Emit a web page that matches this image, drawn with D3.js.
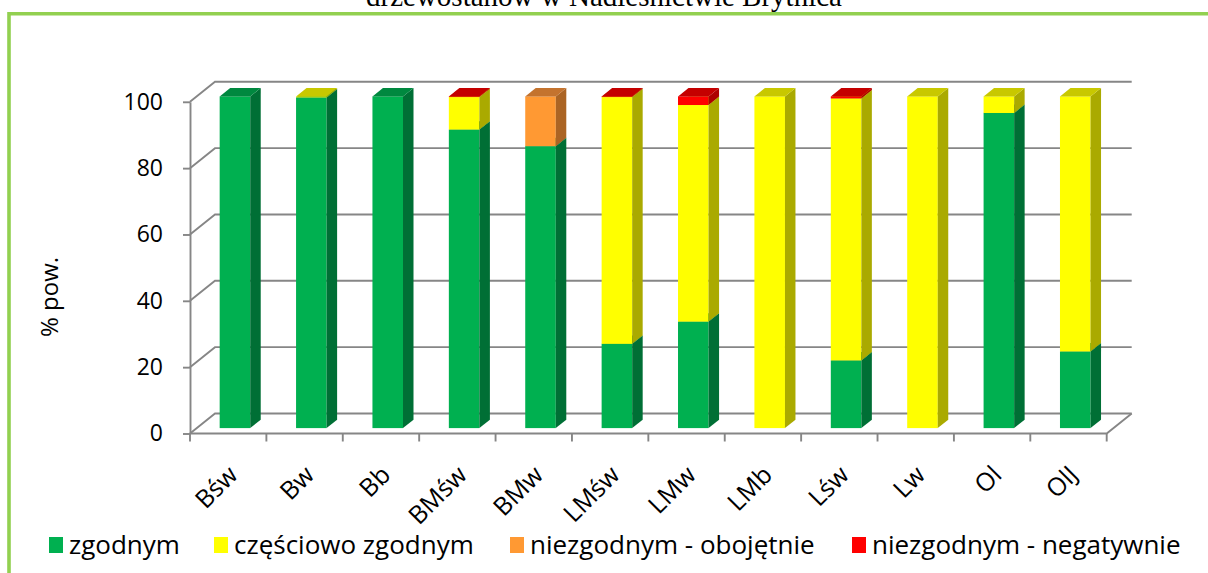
<!DOCTYPE html>
<html>
<head>
<meta charset="utf-8">
<script src="https://cdn.jsdelivr.net/npm/d3@7"></script>
<style>
  html, body { margin: 0; padding: 0; background: #fff; }
  svg { display: block; }
</style>
</head>
<body>
<div id="chart"></div>
<script>
// categories (typy siedliskowe lasu)
const categories = ["Bśw", "Bw", "Bb", "BMśw", "BMw", "LMśw", "LMw", "LMb", "Lśw", "Lw", "Ol", "OlJ"];

// series values, % pow.
const zgodnym    = [100, 99.7, 100, 90, 85, 25.4, 32.1, 0, 20.4, 0, 95, 23.1];
const czesciowo  = [0, 0.3, 0, 9.8, 0, 74.4, 65.3, 100, 79.0, 100, 5, 76.9];
const obojetnie  = [0, 0, 0, 0, 15, 0, 0, 0, 0, 0, 0, 0];
const negatywnie = [0, 0, 0, 0.2, 0, 0.2, 2.6, 0, 0.6, 0, 0, 0];

const seriesNames = ["zgodnym", "częściowo zgodnym", "niezgodnym - obojętnie", "niezgodnym - negatywnie"];
const yTicks = [0, 20, 40, 60, 80, 100];

const titleText = "drzewostanów w Nadleśnictwie Brytnica";
const yTitle = "% pow.";

// build rows for d3.stack
const rows = categories.map((c, i) => ({
  cat: c,
  "zgodnym": zgodnym[i],
  "częściowo zgodnym": czesciowo[i],
  "niezgodnym - obojętnie": obojetnie[i],
  "niezgodnym - negatywnie": negatywnie[i]
}));

const width = 1208, height = 573;
const font = "'Open Sans', 'Noto Sans', sans-serif";

// 3D look: front face, side face, top face per series
const colors = {
  "zgodnym":                 { front: "#00b050", side: "#006f35", top: "#00883f" },
  "częściowo zgodnym":       { front: "#ffff00", side: "#aaaa00", top: "#c8c800" },
  "niezgodnym - obojętnie":  { front: "#ff9933", side: "#ab6424", top: "#c4732e" },
  "niezgodnym - negatywnie": { front: "#ff0000", side: "#ad0000", top: "#c40000" }
};

const depth = { dx: 25, dy: -20 };       // depth of the plot box
const barFront = 0.27, barDepth = 0.42;  // bar position inside the depth

const x = d3.scaleBand()
  .domain(categories)
  .range([190, 1106.7]);

const y = d3.scaleLinear()
  .domain([0, 100])
  .range([433.5, 101.8]);

const svg = d3.select("#chart").append("svg")
  .attr("width", width)
  .attr("height", height)
  .attr("viewBox", [0, 0, width, height]);

// title (cut at the top of the picture, as in the source)
svg.append("text")
  .attr("x", 604)
  .attr("y", 6)
  .attr("text-anchor", "middle")
  .attr("font-family", "'Liberation Serif', serif")
  .attr("font-size", 29)
  .attr("fill", "#000")
  .text(titleText);

// green frame
svg.append("path")
  .attr("d", "M9,573 V13.8 H1212")
  .attr("fill", "none")
  .attr("stroke", "#92d050")
  .attr("stroke-width", 3.6);

const grid = svg.append("g")
  .attr("stroke", "#868686")
  .attr("stroke-width", 1.9)
  .attr("fill", "none");

const x0 = x.range()[0], x1 = x.range()[1];

// back wall gridlines and left wall diagonals
grid.selectAll(".back")
  .data(yTicks)
  .join("path")
  .attr("class", "back")
  .attr("d", d => `M${x0},${y(d)} L${x0 + depth.dx},${y(d) + depth.dy} H${x1 + depth.dx}`);

// floor: front edge and right diagonal
grid.append("path")
  .attr("d", `M${x0},${y(0)} H${x1} L${x1 + depth.dx},${y(0) + depth.dy}`);

// y axis
const yAxis = svg.append("g")
  .attr("transform", `translate(${x0},0)`)
  .call(d3.axisLeft(y).tickValues(yTicks).tickSize(7).tickSizeOuter(0).tickPadding(20));
yAxis.select(".domain").attr("stroke", "#868686").attr("stroke-width", 1.9);
yAxis.selectAll(".tick line").attr("stroke", "#868686").attr("stroke-width", 1.9);
yAxis.selectAll(".tick text")
  .attr("font-family", font)
  .attr("font-size", 23)
  .attr("fill", "#000");

// x ticks at band borders
const borders = categories.map(c => x(c)).concat([x1]);
grid.selectAll(".xtick")
  .data(borders)
  .join("line")
  .attr("class", "xtick")
  .attr("x1", d => d).attr("x2", d => d)
  .attr("y1", y(0)).attr("y2", y(0) + 8);

// x labels
svg.append("g")
  .selectAll("text")
  .data(categories)
  .join("text")
  .attr("transform", d => `translate(${x(d) + x.bandwidth() / 2 + 11},${y(0) + 43}) rotate(-45)`)
  .attr("text-anchor", "end")
  .attr("font-family", font)
  .attr("font-size", 25)
  .attr("fill", "#000")
  .text(d => d);

// y title
svg.append("text")
  .attr("transform", "translate(58,297) rotate(-90)")
  .attr("text-anchor", "middle")
  .attr("font-family", font)
  .attr("font-size", 24)
  .attr("fill", "#000")
  .text(yTitle);

// stacked 3D bars
const series = d3.stack().keys(seriesNames)(rows);

const barW = x.bandwidth() * 0.4;
const fdx = depth.dx * barFront, fdy = depth.dy * barFront;
const bdx = depth.dx * barDepth, bdy = depth.dy * barDepth;

const segments = [];
categories.forEach((c, i) => {
  series.forEach(s => {
    const d = s[i];
    if (d[1] - d[0] > 0) segments.push({ cat: c, key: s.key, y0: d[0], y1: d[1] });
  });
});

const bars = svg.append("g")
  .selectAll("g")
  .data(segments)
  .join("g");

const left = d => x(d.cat) + (x.bandwidth() - barW) / 2 + fdx;

bars.append("rect")
  .attr("x", d => left(d))
  .attr("y", d => y(d.y1) + fdy)
  .attr("width", barW)
  .attr("height", d => y(d.y0) - y(d.y1))
  .attr("fill", d => colors[d.key].front);

bars.append("path")
  .attr("d", d => {
    const r = left(d) + barW, t = y(d.y1) + fdy, b = y(d.y0) + fdy;
    return `M${r},${b} L${r + bdx},${b + bdy} L${r + bdx},${t + bdy} L${r},${t} Z`;
  })
  .attr("fill", d => colors[d.key].side);

bars.append("path")
  .attr("d", d => {
    const l = left(d), r = l + barW, t = y(d.y1) + fdy;
    return `M${l},${t} L${r},${t} L${r + bdx},${t + bdy} L${l + bdx},${t + bdy} Z`;
  })
  .attr("fill", d => colors[d.key].top);

// legend
const legendX = [49, 214, 510, 852];
const legend = svg.append("g")
  .selectAll("g")
  .data(seriesNames)
  .join("g")
  .attr("transform", (d, i) => `translate(${legendX[i]},537)`);

legend.append("rect")
  .attr("width", 14)
  .attr("height", 16)
  .attr("fill", d => colors[d].front);

legend.append("text")
  .attr("x", 20)
  .attr("y", 17)
  .attr("font-family", font)
  .attr("font-size", 26)
  .attr("fill", "#000")
  .text(d => d);
</script>
</body>
</html>
